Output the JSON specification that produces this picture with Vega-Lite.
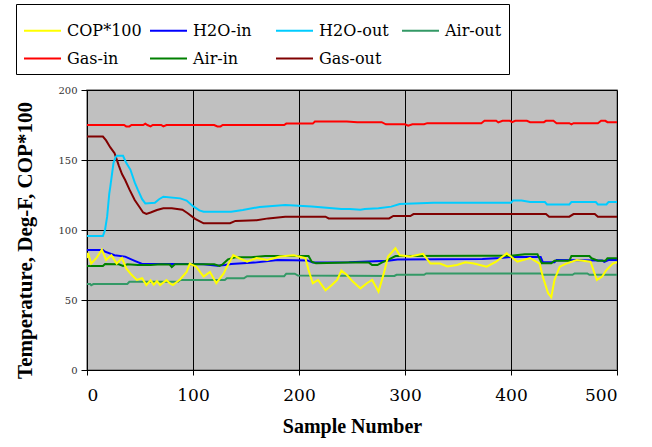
{
  "$schema": "https://vega.github.io/schema/vega-lite/v6.json",
  "autosize": {"type": "none"},
  "padding": {"left": 87, "top": 90, "right": 35, "bottom": 77},
  "width": 530,
  "height": 280,
  "background": "white",
  "config": {
    "view": {"fill": "#c0c0c0", "stroke": "#808080", "strokeWidth": 1.5},
    "font": "DejaVu Serif"
  },
  "datasets": {
    "rows": [
      {"s":0,"k":"Gas-in","v":175},{"s":35,"k":"Gas-in","v":175},{"s":37,"k":"Gas-in","v":174},{"s":40,"k":"Gas-in","v":174},{"s":42,"k":"Gas-in","v":175},{"s":53,"k":"Gas-in","v":175},{"s":55,"k":"Gas-in","v":176},{"s":57,"k":"Gas-in","v":175},{"s":60,"k":"Gas-in","v":174},{"s":62,"k":"Gas-in","v":175},{"s":70,"k":"Gas-in","v":175},{"s":72,"k":"Gas-in","v":174},{"s":75,"k":"Gas-in","v":175},{"s":120,"k":"Gas-in","v":175},{"s":123,"k":"Gas-in","v":174},{"s":126,"k":"Gas-in","v":174},{"s":128,"k":"Gas-in","v":175},{"s":186,"k":"Gas-in","v":175},{"s":188,"k":"Gas-in","v":176},{"s":213,"k":"Gas-in","v":176},{"s":215,"k":"Gas-in","v":177.5},{"s":245,"k":"Gas-in","v":177.5},{"s":255,"k":"Gas-in","v":177},{"s":278,"k":"Gas-in","v":177},{"s":282,"k":"Gas-in","v":175.5},{"s":300,"k":"Gas-in","v":175.5},{"s":303,"k":"Gas-in","v":174.5},{"s":307,"k":"Gas-in","v":175.5},{"s":318,"k":"Gas-in","v":175.5},{"s":321,"k":"Gas-in","v":176.3},{"s":372,"k":"Gas-in","v":176.3},{"s":375,"k":"Gas-in","v":178},{"s":386,"k":"Gas-in","v":178},{"s":388,"k":"Gas-in","v":176.8},{"s":392,"k":"Gas-in","v":178},{"s":399,"k":"Gas-in","v":178},{"s":401,"k":"Gas-in","v":177},{"s":404,"k":"Gas-in","v":178},{"s":415,"k":"Gas-in","v":178},{"s":418,"k":"Gas-in","v":177},{"s":431,"k":"Gas-in","v":177},{"s":433,"k":"Gas-in","v":178},{"s":440,"k":"Gas-in","v":178},{"s":443,"k":"Gas-in","v":176.3},{"s":455,"k":"Gas-in","v":176.3},{"s":457,"k":"Gas-in","v":175.5},{"s":459,"k":"Gas-in","v":176.3},{"s":482,"k":"Gas-in","v":176.3},{"s":485,"k":"Gas-in","v":178},{"s":489,"k":"Gas-in","v":178},{"s":491,"k":"Gas-in","v":177},{"s":500,"k":"Gas-in","v":177},

      {"s":0,"k":"Gas-out","v":166.7},{"s":15,"k":"Gas-out","v":166.7},{"s":18,"k":"Gas-out","v":164},{"s":22,"k":"Gas-out","v":159},{"s":26,"k":"Gas-out","v":154.8},{"s":30,"k":"Gas-out","v":146},{"s":33,"k":"Gas-out","v":140},{"s":36,"k":"Gas-out","v":135.7},{"s":40,"k":"Gas-out","v":129},{"s":45,"k":"Gas-out","v":121.4},{"s":49,"k":"Gas-out","v":117},{"s":53,"k":"Gas-out","v":112.5},{"s":56,"k":"Gas-out","v":111.5},{"s":60,"k":"Gas-out","v":112.5},{"s":66,"k":"Gas-out","v":114.3},{"s":72,"k":"Gas-out","v":115.5},{"s":80,"k":"Gas-out","v":115.5},{"s":90,"k":"Gas-out","v":114.5},{"s":95,"k":"Gas-out","v":112},{"s":102,"k":"Gas-out","v":108},{"s":110,"k":"Gas-out","v":104.8},{"s":135,"k":"Gas-out","v":104.8},{"s":140,"k":"Gas-out","v":106.5},{"s":160,"k":"Gas-out","v":107},{"s":171,"k":"Gas-out","v":108.3},{"s":187,"k":"Gas-out","v":109.5},{"s":225,"k":"Gas-out","v":109.5},{"s":228,"k":"Gas-out","v":108.3},{"s":285,"k":"Gas-out","v":108.3},{"s":289,"k":"Gas-out","v":110},{"s":305,"k":"Gas-out","v":110},{"s":308,"k":"Gas-out","v":111.4},{"s":433,"k":"Gas-out","v":111.4},{"s":436,"k":"Gas-out","v":109.5},{"s":455,"k":"Gas-out","v":109.5},{"s":459,"k":"Gas-out","v":111.4},{"s":479,"k":"Gas-out","v":111.4},{"s":482,"k":"Gas-out","v":109.5},{"s":500,"k":"Gas-out","v":109.5},

      {"s":0,"k":"H2O-out","v":95.7},{"s":15,"k":"H2O-out","v":95.7},{"s":17,"k":"H2O-out","v":100},{"s":19,"k":"H2O-out","v":109.5},{"s":21,"k":"H2O-out","v":126},{"s":22,"k":"H2O-out","v":131},{"s":25,"k":"H2O-out","v":148},{"s":27,"k":"H2O-out","v":152},{"s":28,"k":"H2O-out","v":153},{"s":34,"k":"H2O-out","v":153},{"s":37,"k":"H2O-out","v":148},{"s":41,"k":"H2O-out","v":143},{"s":45,"k":"H2O-out","v":134},{"s":48,"k":"H2O-out","v":128.6},{"s":52,"k":"H2O-out","v":122},{"s":55,"k":"H2O-out","v":119},{"s":64,"k":"H2O-out","v":119.5},{"s":68,"k":"H2O-out","v":122},{"s":72,"k":"H2O-out","v":123.8},{"s":88,"k":"H2O-out","v":122.6},{"s":94,"k":"H2O-out","v":121},{"s":100,"k":"H2O-out","v":117},{"s":106,"k":"H2O-out","v":114},{"s":110,"k":"H2O-out","v":113},{"s":136,"k":"H2O-out","v":113},{"s":147,"k":"H2O-out","v":114.3},{"s":163,"k":"H2O-out","v":116.5},{"s":187,"k":"H2O-out","v":117.9},{"s":212,"k":"H2O-out","v":116.7},{"s":240,"k":"H2O-out","v":115},{"s":248,"k":"H2O-out","v":115},{"s":258,"k":"H2O-out","v":114.5},{"s":262,"k":"H2O-out","v":115},{"s":275,"k":"H2O-out","v":115.5},{"s":287,"k":"H2O-out","v":116.7},{"s":295,"k":"H2O-out","v":118.6},{"s":327,"k":"H2O-out","v":119.5},{"s":400,"k":"H2O-out","v":119.5},{"s":402,"k":"H2O-out","v":121},{"s":410,"k":"H2O-out","v":121},{"s":418,"k":"H2O-out","v":120},{"s":432,"k":"H2O-out","v":120},{"s":434,"k":"H2O-out","v":118.3},{"s":455,"k":"H2O-out","v":118.3},{"s":457,"k":"H2O-out","v":120},{"s":480,"k":"H2O-out","v":120},{"s":482,"k":"H2O-out","v":118.3},{"s":490,"k":"H2O-out","v":118.3},{"s":492,"k":"H2O-out","v":120},{"s":500,"k":"H2O-out","v":120},

      {"s":0,"k":"Air-out","v":61.4},{"s":3,"k":"Air-out","v":61.4},{"s":4,"k":"Air-out","v":60.5},{"s":6,"k":"Air-out","v":61.4},{"s":38,"k":"Air-out","v":61.4},{"s":40,"k":"Air-out","v":63},{"s":86,"k":"Air-out","v":63},{"s":88,"k":"Air-out","v":64.3},{"s":130,"k":"Air-out","v":64.3},{"s":132,"k":"Air-out","v":65.5},{"s":148,"k":"Air-out","v":65.5},{"s":151,"k":"Air-out","v":67},{"s":186,"k":"Air-out","v":67},{"s":188,"k":"Air-out","v":68.8},{"s":196,"k":"Air-out","v":68.8},{"s":199,"k":"Air-out","v":67.5},{"s":290,"k":"Air-out","v":67.2},{"s":292,"k":"Air-out","v":68},{"s":318,"k":"Air-out","v":68},{"s":320,"k":"Air-out","v":69},{"s":428,"k":"Air-out","v":69},{"s":430,"k":"Air-out","v":68},{"s":458,"k":"Air-out","v":68},{"s":460,"k":"Air-out","v":69},{"s":472,"k":"Air-out","v":69},{"s":474,"k":"Air-out","v":68},{"s":500,"k":"Air-out","v":68},

      {"s":0,"k":"H2O-in","v":85.7},{"s":15,"k":"H2O-in","v":85.7},{"s":17,"k":"H2O-in","v":84.5},{"s":26,"k":"H2O-in","v":82},{"s":36,"k":"H2O-in","v":81},{"s":45,"k":"H2O-in","v":78},{"s":52,"k":"H2O-in","v":75.7},{"s":99,"k":"H2O-in","v":75.7},{"s":110,"k":"H2O-in","v":75.5},{"s":123,"k":"H2O-in","v":74.5},{"s":130,"k":"H2O-in","v":75},{"s":136,"k":"H2O-in","v":75.7},{"s":158,"k":"H2O-in","v":76.7},{"s":180,"k":"H2O-in","v":78.6},{"s":208,"k":"H2O-in","v":78.3},{"s":213,"k":"H2O-in","v":76.7},{"s":247,"k":"H2O-in","v":77},{"s":284,"k":"H2O-in","v":78},{"s":293,"k":"H2O-in","v":79},{"s":373,"k":"H2O-in","v":79.3},{"s":390,"k":"H2O-in","v":80},{"s":400,"k":"H2O-in","v":80.7},{"s":428,"k":"H2O-in","v":80.7},{"s":430,"k":"H2O-in","v":77},{"s":441,"k":"H2O-in","v":77},{"s":443,"k":"H2O-in","v":78.6},{"s":486,"k":"H2O-in","v":78.3},{"s":488,"k":"H2O-in","v":77.3},{"s":492,"k":"H2O-in","v":78.6},{"s":500,"k":"H2O-in","v":78.6},

      {"s":0,"k":"Air-in","v":74.3},{"s":15,"k":"Air-in","v":74.3},{"s":17,"k":"Air-in","v":75.7},{"s":30,"k":"Air-in","v":75.5},{"s":34,"k":"Air-in","v":74.3},{"s":38,"k":"Air-in","v":75.5},{"s":48,"k":"Air-in","v":75},{"s":60,"k":"Air-in","v":75},{"s":70,"k":"Air-in","v":75.5},{"s":78,"k":"Air-in","v":75.3},{"s":80,"k":"Air-in","v":73.5},{"s":83,"k":"Air-in","v":75.5},{"s":100,"k":"Air-in","v":75.5},{"s":120,"k":"Air-in","v":75.5},{"s":125,"k":"Air-in","v":74.3},{"s":128,"k":"Air-in","v":75.5},{"s":133,"k":"Air-in","v":79},{"s":140,"k":"Air-in","v":80.5},{"s":155,"k":"Air-in","v":80.5},{"s":168,"k":"Air-in","v":81.4},{"s":209,"k":"Air-in","v":81.4},{"s":212,"k":"Air-in","v":77.4},{"s":216,"k":"Air-in","v":76.2},{"s":247,"k":"Air-in","v":76.7},{"s":266,"k":"Air-in","v":76.7},{"s":269,"k":"Air-in","v":75},{"s":274,"k":"Air-in","v":75},{"s":278,"k":"Air-in","v":76.7},{"s":284,"k":"Air-in","v":78.6},{"s":291,"k":"Air-in","v":81.4},{"s":373,"k":"Air-in","v":81.6},{"s":400,"k":"Air-in","v":81.6},{"s":413,"k":"Air-in","v":82.6},{"s":425,"k":"Air-in","v":82.6},{"s":429,"k":"Air-in","v":76.2},{"s":438,"k":"Air-in","v":76.2},{"s":441,"k":"Air-in","v":78},{"s":455,"k":"Air-in","v":78},{"s":457,"k":"Air-in","v":81.4},{"s":474,"k":"Air-in","v":81.4},{"s":476,"k":"Air-in","v":79.8},{"s":482,"k":"Air-in","v":78},{"s":489,"k":"Air-in","v":78},{"s":491,"k":"Air-in","v":79.8},{"s":500,"k":"Air-in","v":79.8},

      {"s":0,"k":"COP*100","v":80},{"s":1,"k":"COP*100","v":83.6},{"s":4,"k":"COP*100","v":76},{"s":9,"k":"COP*100","v":80},{"s":14,"k":"COP*100","v":86},{"s":18,"k":"COP*100","v":78.6},{"s":23,"k":"COP*100","v":82},{"s":28,"k":"COP*100","v":76},{"s":33,"k":"COP*100","v":80},{"s":37,"k":"COP*100","v":72.6},{"s":42,"k":"COP*100","v":68},{"s":47,"k":"COP*100","v":64.3},{"s":52,"k":"COP*100","v":65.5},{"s":56,"k":"COP*100","v":60.7},{"s":60,"k":"COP*100","v":64},{"s":63,"k":"COP*100","v":61},{"s":66,"k":"COP*100","v":63.5},{"s":69,"k":"COP*100","v":60.7},{"s":75,"k":"COP*100","v":64.3},{"s":78,"k":"COP*100","v":62},{"s":81,"k":"COP*100","v":60.7},{"s":85,"k":"COP*100","v":63},{"s":88,"k":"COP*100","v":64.8},{"s":94,"k":"COP*100","v":70},{"s":97,"k":"COP*100","v":76},{"s":103,"k":"COP*100","v":73.8},{"s":110,"k":"COP*100","v":66.7},{"s":116,"k":"COP*100","v":70},{"s":122,"k":"COP*100","v":62},{"s":129,"k":"COP*100","v":69},{"s":132,"k":"COP*100","v":73.8},{"s":138,"k":"COP*100","v":82},{"s":143,"k":"COP*100","v":80},{"s":151,"k":"COP*100","v":77.4},{"s":160,"k":"COP*100","v":80},{"s":170,"k":"COP*100","v":78.6},{"s":182,"k":"COP*100","v":81},{"s":195,"k":"COP*100","v":82},{"s":206,"k":"COP*100","v":80},{"s":209,"k":"COP*100","v":71.4},{"s":213,"k":"COP*100","v":62},{"s":218,"k":"COP*100","v":64.3},{"s":225,"k":"COP*100","v":57},{"s":231,"k":"COP*100","v":60.7},{"s":236,"k":"COP*100","v":64.3},{"s":240,"k":"COP*100","v":71},{"s":245,"k":"COP*100","v":68},{"s":251,"k":"COP*100","v":63},{"s":258,"k":"COP*100","v":58.3},{"s":264,"k":"COP*100","v":62},{"s":269,"k":"COP*100","v":64.3},{"s":275,"k":"COP*100","v":56},{"s":280,"k":"COP*100","v":69},{"s":284,"k":"COP*100","v":81},{"s":291,"k":"COP*100","v":87},{"s":295,"k":"COP*100","v":82},{"s":305,"k":"COP*100","v":81},{"s":317,"k":"COP*100","v":83},{"s":324,"k":"COP*100","v":76},{"s":333,"k":"COP*100","v":76},{"s":340,"k":"COP*100","v":74},{"s":349,"k":"COP*100","v":75},{"s":357,"k":"COP*100","v":77},{"s":365,"k":"COP*100","v":76},{"s":377,"k":"COP*100","v":73.8},{"s":386,"k":"COP*100","v":77.4},{"s":396,"k":"COP*100","v":83.3},{"s":406,"k":"COP*100","v":77.4},{"s":418,"k":"COP*100","v":80},{"s":427,"k":"COP*100","v":76},{"s":430,"k":"COP*100","v":66.7},{"s":435,"k":"COP*100","v":54.8},{"s":438,"k":"COP*100","v":52},{"s":441,"k":"COP*100","v":64.3},{"s":446,"k":"COP*100","v":73.8},{"s":452,"k":"COP*100","v":76},{"s":462,"k":"COP*100","v":78.6},{"s":475,"k":"COP*100","v":77.4},{"s":481,"k":"COP*100","v":64.3},{"s":486,"k":"COP*100","v":66.7},{"s":490,"k":"COP*100","v":71.4},{"s":496,"k":"COP*100","v":76},{"s":500,"k":"COP*100","v":77}
    ]
  },
  "data": {"name": "rows"},
  "mark": {"type": "line", "strokeWidth": 2, "clip": true},
  "encoding": {
    "x": {
      "field": "s", "type": "quantitative",
      "scale": {"domain": [0, 500], "nice": false},
      "axis": {
        "title": "Sample Number", "values": [0, 100, 200, 300, 400, 500],
        "labelFont": "DejaVu Serif", "labelFontSize": 17, "labelColor": "black",
        "tickSize": 5, "tickColor": "black", "domainColor": "black",
        "labelPadding": 12, "gridColor": "black", "gridWidth": 1,
        "titleFont": "Liberation Serif", "titleFontSize": 20, "titleFontWeight": "bold",
        "titleColor": "black", "titlePadding": 13
      }
    },
    "y": {
      "field": "v", "type": "quantitative",
      "scale": {"domain": [0, 200], "nice": false},
      "axis": {
        "title": "Temperature, Deg-F, COP*100", "values": [0, 50, 100, 150, 200],
        "labelFont": "DejaVu Serif", "labelFontSize": 10, "labelColor": "#333333",
        "tickSize": 6, "tickColor": "black", "domainColor": "black",
        "labelPadding": 4, "gridColor": "black", "gridWidth": 1,
        "titleFont": "Liberation Serif", "titleFontSize": 21, "titleFontWeight": "bold",
        "titleColor": "black", "titleX": -52, "titleY": 150, "titleAngle": -90, "titleBaseline": "bottom", "titleAlign": "center"
      }
    },
    "color": {
      "field": "k", "type": "nominal",
      "scale": {
        "domain": ["COP*100", "H2O-in", "H2O-out", "Air-out", "Gas-in", "Air-in", "Gas-out"],
        "range": ["#ffff00", "#0000ff", "#00ccff", "#339966", "#ff0000", "#008000", "#800000"]
      },
      "legend": {
        "title": null, "orient": "none", "legendX": -71, "legendY": -86,
        "columns": 4, "direction": "horizontal", "gridAlign": "all",
        "symbolType": "stroke", "symbolSize": 1369, "symbolStrokeWidth": 2,
        "labelFont": "DejaVu Serif", "labelFontSize": 16, "labelColor": "black",
        "labelOffset": 5, "columnPadding": 4, "rowPadding": -13,
        "padding": 7, "strokeColor": "black", "fillColor": "white", "labelLimit": 200
      }
    }
  }
}
